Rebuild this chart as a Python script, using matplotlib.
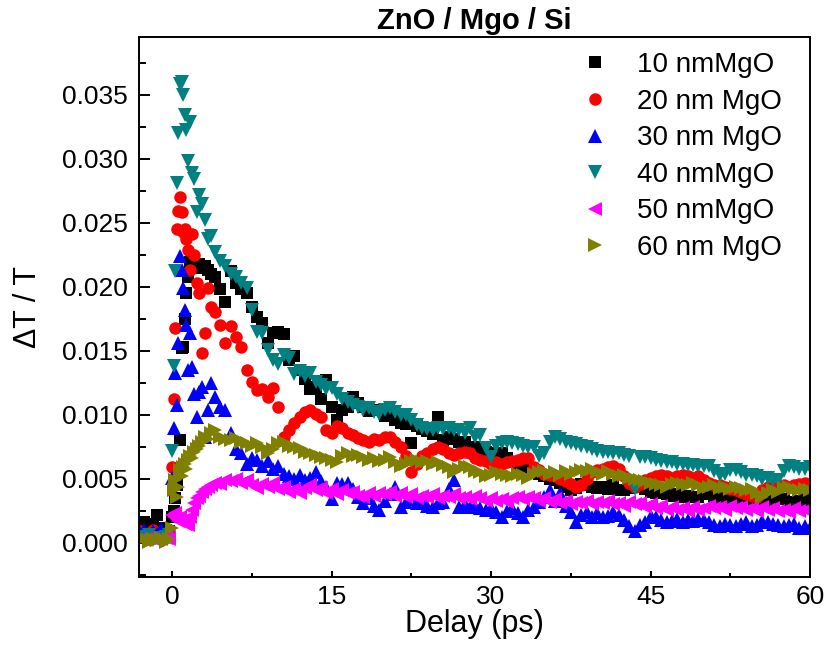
import numpy as np
import matplotlib
matplotlib.use("Agg")
import matplotlib.pyplot as plt
from matplotlib.ticker import MultipleLocator, FormatStrFormatter

plt.rcParams["font.family"] = ["Liberation Sans", "DejaVu Sans"]

# pump-probe delay (ps)
delay_pre = [-3.0, -2.6, -2.2, -1.8, -1.4, -1.0, -0.6, -0.3]
delay_rise = [0.0, 0.15, 0.3, 0.45, 0.6, 0.75, 0.9, 1.05, 1.2, 1.35, 1.5,
              1.7, 1.9, 2.1, 2.3, 2.5, 2.8, 3.1, 3.4, 3.7, 4.0]
delay_tail = [4.5, 5.0, 5.5, 6.0, 6.5, 7.0, 7.5, 8.0, 8.5, 9.0,
              9.5, 10.0, 10.5, 11.0, 11.5, 12.0, 12.5, 13.0, 13.5, 14.0,
              14.5, 15.0, 15.5, 16.0, 16.5, 17.0, 17.5, 18.0, 18.5, 19.0,
              19.5, 20.0, 20.5, 21.0, 21.5, 22.0, 22.5, 23.0, 23.5, 24.0,
              24.5, 25.0, 25.5, 26.0, 26.5, 27.0, 27.5, 28.0, 28.5, 29.0,
              29.5, 30.0, 30.5, 31.0, 31.5, 32.0, 32.5, 33.0, 33.5, 34.0,
              34.5, 35.0, 35.5, 36.0, 36.5, 37.0, 37.5, 38.0, 38.5, 39.0,
              39.5, 40.0, 40.5, 41.0, 41.5, 42.0, 42.5, 43.0, 43.5, 44.0,
              44.5, 45.0, 45.5, 46.0, 46.5, 47.0, 47.5, 48.0, 48.5, 49.0,
              49.5, 50.0, 50.5, 51.0, 51.5, 52.0, 52.5, 53.0, 53.5, 54.0,
              54.5, 55.0, 55.5, 56.0, 56.5, 57.0, 57.5, 58.0, 58.5, 59.0,
              59.5, 60.0]
delay = np.array(delay_pre + delay_rise + delay_tail)

# dT/T in units of 1e-3
mgo_10 = [1.4, 1.6, 1.3, 1.5, 2.2, 1.2, 1.0, 0.9,
          2.0, 2.5, 3.5, 4.5, 5.7, 8.0, 15.2, 15.3, 17.5, 19.5, 20.8,
          21.9, 21.9, 21.7, 21.6, 21.8, 21.5, 21.6, 21.3, 21.0, 20.8,
          19.8, 18.8, 21.2, 20.3, 19.8, 19.5, 18.4, 17.6, 17.2, 15.6,
          16.4, 16.5, 16.3, 14.3, 14.6, 13.5, 12.8, 12.0, 12.2, 11.2,
          12.7, 10.6, 9.6, 10.4, 10.6, 11.4, 10.9, 10.6, 10.3, 10.4,
          10.4, 9.9, 10.1, 9.6, 9.4, 9.3, 7.8, 9.1, 8.9, 8.7,
          8.5, 9.8, 8.0, 8.3, 8.1, 7.9, 7.9, 7.3, 7.5, 7.2,
          7.1, 7.0, 6.9, 7.0, 6.6, 6.3, 5.9, 5.5, 5.8, 5.7,
          5.4, 5.2, 5.0, 4.9, 4.7, 4.4, 4.1, 4.3, 4.6, 4.5,
          4.4, 4.3, 4.4, 4.2, 4.5, 4.1, 4.1, 4.3, 4.4, 4.4,
          4.2, 4.0, 3.9, 4.1, 3.8, 3.7, 3.8, 3.6, 3.7, 3.6,
          3.6, 3.8, 3.9, 3.7, 3.5, 3.6, 3.4, 3.6, 3.5, 3.3,
          3.2, 3.3, 3.1, 3.2, 3.4, 3.5, 3.4, 3.2, 3.1, 3.3,
          3.4, 3.3]

mgo_20 = [0.9, 0.7, 0.8, 1.0, 0.6, 0.8, 0.7, 0.9,
          5.9, 11.2, 16.8, 24.5, 25.9, 27.0, 25.8, 24.3, 24.5, 23.7, 22.9,
          21.3, 24.1, 22.5, 20.3, 19.5, 14.8, 16.4, 19.9, 18.4, 18.0,
          17.0, 15.6, 16.9, 16.1, 15.3, 13.5, 12.6, 11.9, 12.0, 11.4,
          12.1, 10.6, 8.3, 8.8, 9.4, 9.8, 10.2, 10.4, 10.1, 9.8,
          8.8, 8.6, 9.1, 9.0, 8.6, 8.4, 8.2, 8.0, 7.9, 8.1,
          8.0, 8.3, 8.3, 7.9, 7.5, 6.8, 5.5, 6.2, 6.8, 7.0,
          7.3, 7.5, 7.3, 7.0, 6.9, 7.0, 7.1, 7.0, 6.6, 6.5,
          6.4, 6.2, 6.3, 6.2, 6.3, 6.4, 6.5, 6.6, 6.6, 5.9,
          5.7, 5.4, 5.3, 5.2, 5.0, 4.8, 4.6, 4.4, 4.5, 5.0,
          5.5, 5.7, 5.8, 5.9, 6.0, 5.8, 5.2, 4.7, 4.4, 4.6,
          4.9, 5.1, 5.2, 5.3, 5.2, 5.1, 5.2, 5.3, 5.2, 5.1,
          5.2, 4.9, 4.7, 4.5, 4.5, 4.4, 4.2, 4.1, 4.0, 3.8,
          3.7, 3.6, 4.1, 4.4, 4.3, 4.4, 4.5, 4.4, 4.5, 4.6,
          4.7, 4.6]

mgo_30 = [0.8, 1.0, 0.6, 0.9, 0.7, 1.1, 0.8, 0.6,
          5.1, 9.0, 13.3, 10.8, 15.6, 22.4, 21.3, 19.9, 18.2, 17.0, 13.5,
          16.4, 13.7, 11.6, 9.8, 11.8, 12.2, 8.3, 10.4, 12.5, 11.4,
          10.6, 10.4, 8.6, 7.3, 7.0, 6.2, 6.6, 6.5, 6.0, 6.4,
          5.8, 6.0, 5.4, 5.2, 5.0, 5.3, 4.9, 5.1, 5.5, 4.8,
          4.4, 3.4, 4.7, 4.6, 4.7, 4.2, 3.6, 3.1, 3.5, 2.9,
          2.6, 3.3, 3.8, 4.4, 2.8, 3.2, 3.4, 3.1, 3.3, 2.9,
          2.8, 3.1, 3.2, 4.2, 4.9, 2.8, 3.0, 2.8, 2.9, 2.7,
          2.6, 2.7, 2.4, 2.0, 2.5, 2.7, 2.3, 2.0, 2.6, 2.8,
          3.2, 3.6, 4.1, 3.3, 3.9, 2.9, 2.4, 1.6, 2.2, 2.4,
          2.0, 2.3, 2.0, 2.1, 2.4, 2.2, 1.8, 1.3, 0.9, 1.4,
          1.6, 2.1, 2.0, 1.8, 1.6, 1.7, 1.9, 1.6, 1.8, 1.7,
          1.9, 1.8, 1.6, 1.4, 1.3, 1.5, 1.4, 1.3, 1.5, 1.6,
          1.3, 1.4, 1.7, 1.6, 1.5, 1.4, 1.3, 1.4, 1.5, 1.2,
          1.3, 1.2]

mgo_40 = [0.5, 0.3, 0.6, 0.2, 0.4, 0.3, 0.5, 0.6,
          7.2, 13.8, 21.2, 28.1, 32.0, 35.8, 36.0, 35.0, 33.4, 32.2, 29.8,
          32.9, 28.9, 28.4, 25.8, 27.2, 26.5, 25.2, 23.7, 24.0, 22.7,
          22.0, 21.6, 21.0, 20.8, 20.3, 19.9, 18.2, 16.5, 16.4, 15.1,
          14.3, 14.0, 14.7, 14.4, 13.2, 13.4, 13.0, 13.3, 12.6, 12.3,
          12.0, 12.1, 11.6, 11.2, 11.0, 10.8, 10.6, 10.4, 10.5, 10.2,
          10.1, 10.4, 10.5, 10.2, 10.0, 10.0, 9.6, 9.2, 9.0, 8.9,
          8.8, 9.0, 8.9, 9.0, 8.8, 8.8, 8.6, 9.0, 8.3, 8.4,
          7.4, 6.7, 7.6, 7.8, 7.9, 7.8, 7.7, 7.6, 7.5, 7.5,
          6.8, 7.0, 7.9, 8.3, 8.1, 7.9, 7.8, 7.7, 7.6, 7.5,
          7.3, 7.2, 7.1, 7.1, 7.0, 7.0, 6.9, 6.8, 4.2, 6.7,
          6.7, 6.6, 6.5, 6.4, 6.3, 6.3, 6.2, 6.2, 6.1, 6.1,
          6.0, 6.0, 6.0, 5.6, 5.3, 5.4, 5.7, 5.7, 5.5, 5.3,
          5.3, 5.2, 5.0, 5.1, 4.9, 4.9, 5.6, 6.0, 5.9, 5.8,
          5.8, 5.9]

mgo_50 = [0.3, 0.2, 0.4, 0.3, 0.2, 0.3, 0.4, 0.3,
          2.2, 2.0, 2.3, 1.9, 1.7, 2.0, 1.6, 1.8, 1.5, 1.7, 1.4,
          2.0, 2.6, 3.1, 3.5, 3.7, 4.0, 4.2, 4.4, 4.5, 4.7,
          4.6, 4.9, 4.8, 5.0, 4.7, 4.9, 4.5, 4.3, 4.6, 4.4,
          4.7, 4.2, 4.4, 4.0, 4.2, 3.9, 4.3, 4.5, 4.1, 4.3,
          3.9, 4.2, 3.8, 4.1, 3.9, 4.0, 3.7, 3.6, 3.9, 3.7,
          3.9, 3.8, 4.0, 3.7, 3.9, 3.6, 3.8, 3.5, 3.7, 3.6,
          3.8, 3.5, 3.7, 3.6, 3.8, 3.5, 3.6, 3.4, 3.7, 3.5,
          3.3, 3.5, 3.3, 3.4, 3.2, 3.5, 3.6, 3.4, 3.6, 3.5,
          3.3, 3.5, 3.2, 3.4, 3.1, 3.3, 3.0, 3.2, 3.1, 3.3,
          3.0, 3.2, 3.1, 3.3, 3.0, 3.1, 2.9, 3.2, 3.0, 3.1,
          2.8, 3.0, 2.7, 2.9, 2.6, 2.8, 2.6, 2.7, 2.5, 2.8,
          2.6, 2.7, 2.9, 2.7, 2.8, 2.6, 2.9, 2.7, 2.8, 2.6,
          2.7, 2.5, 2.8, 2.6, 2.7, 2.5, 2.6, 2.4, 2.7, 2.5,
          2.6, 2.5]

mgo_60 = [0.2, 0.4, 0.1, 0.3, 0.2, 0.4, 0.1, 0.3,
          1.2, 4.1, 4.9, 3.6, 4.4, 5.7, 5.2, 5.9, 6.2, 5.8, 6.5,
          6.8, 6.6, 7.1, 7.3, 7.6, 7.9, 8.3, 8.1, 8.6, 8.8,
          8.3, 8.1, 8.0, 8.2, 7.9, 7.8, 7.6, 7.8, 7.5, 7.0,
          7.3, 7.8, 7.9, 7.6, 7.5, 7.4, 7.1, 7.0, 6.9, 6.7,
          6.6, 6.5, 6.3, 6.8, 7.0, 6.8, 6.9, 6.7, 6.5, 6.6,
          6.4, 6.5, 6.7, 6.3, 6.0, 6.2, 6.4, 6.5, 6.3, 6.4,
          6.2, 6.3, 6.1, 5.9, 5.5, 5.8, 6.0, 5.9, 5.6, 5.5,
          5.2, 5.3, 5.5, 5.4, 5.3, 5.2, 5.4, 5.3, 5.1, 5.4,
          5.5, 5.6, 5.4, 5.5, 5.3, 5.6, 5.4, 5.5, 5.7, 5.6,
          5.8, 5.5, 5.4, 5.6, 5.4, 5.2, 5.3, 5.1, 5.0, 4.9,
          4.8, 4.7, 4.6, 4.5, 4.4, 4.6, 4.7, 4.6, 4.5, 4.7,
          4.5, 4.3, 4.4, 4.5, 4.3, 4.4, 4.2, 4.4, 4.3, 4.1,
          4.2, 3.9, 3.6, 3.9, 4.1, 4.0, 4.3, 4.4, 4.2, 4.1,
          4.2, 4.1]

labels = ["10 nmMgO", "20 nm MgO", "30 nm MgO",
          "40 nmMgO", "50 nmMgO", "60 nm MgO"]
series = [mgo_10, mgo_20, mgo_30, mgo_40, mgo_50, mgo_60]
colors = ["#000000", "#ff0000", "#0000ff", "#008080", "#ff00ff", "#808000"]
markers = ["s", "o", "^", "v", "<", ">"]
sizes = [8, 9, 10.5, 10.5, 10.5, 10.5]

fig = plt.figure(figsize=(8.28, 6.48), dpi=100)
ax = fig.add_axes([0.168, 0.1096, 0.8104, 0.8333])

for vals, lab, c, m, ms in zip(series, labels, colors, markers, sizes):
    ax.plot(delay, np.array(vals) * 1e-3, linestyle="none", marker=m,
            markersize=ms, color=c, markeredgewidth=0, label=lab)

ax.set_xlim(-3.1, 60)
ax.set_ylim(-0.00266, 0.0395)
ax.xaxis.set_major_locator(MultipleLocator(15))
ax.xaxis.set_minor_locator(MultipleLocator(7.5))
ax.yaxis.set_major_locator(MultipleLocator(0.005))
ax.yaxis.set_minor_locator(MultipleLocator(0.0025))
ax.yaxis.set_major_formatter(FormatStrFormatter("%.3f"))

for side in ax.spines.values():
    side.set_linewidth(1.4)
ax.tick_params(which="both", direction="in", width=1.4, labelsize=19)
ax.tick_params(axis="y", which="major", length=8, pad=8)
ax.tick_params(axis="y", which="minor", length=5)
ax.tick_params(axis="x", which="major", length=4, pad=6)
ax.tick_params(axis="x", which="minor", length=3)

ax.set_xlabel("Delay (ps)", fontsize=22, labelpad=0)
ax.set_ylabel("\u0394T / T", fontsize=22, labelpad=14)
ax.set_title("ZnO / Mgo / Si", fontsize=21, fontweight="bold", pad=6)

ax.legend(loc="upper left", bbox_to_anchor=(0.659, 0.972), frameon=False,
          fontsize=20, handlelength=1.0, handletextpad=1.0,
          labelspacing=0.38, borderpad=0, borderaxespad=0, markerscale=1.0)

fig.savefig("out.png", dpi=100)
